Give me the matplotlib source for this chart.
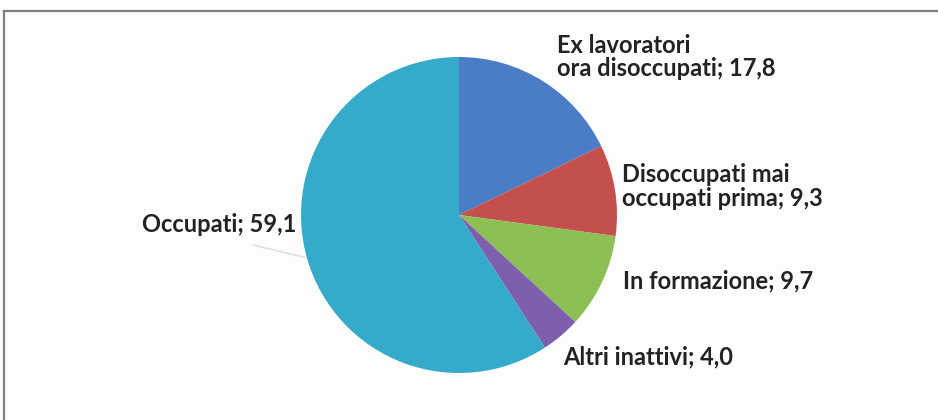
import matplotlib.pyplot as plt
from matplotlib.lines import Line2D

# --- Data ---
labels = ['Ex lavoratori\nora disoccupati; 17,8',
          'Disoccupati mai\noccupati prima; 9,3',
          'In formazione; 9,7',
          'Altri inattivi; 4,0',
          'Occupati; 59,1']
values = [17.8, 9.3, 9.7, 4.0, 59.1]
colors = ['#4A7DC6', '#C4504E', '#8DBF55', '#7E5FAE', '#35AACA']

# label anchor points in pie units (radius = 1), and alignment
label_pos = [(0.62, 1.00), (1.03, 0.18), (1.04, -0.42), (0.66, -0.90), (-1.03, -0.06)]
label_ha = ['left', 'left', 'left', 'left', 'right']

W, H = 938, 420
fig = plt.figure(figsize=(W / 100, H / 100), dpi=100)
fig.patch.set_facecolor('#FDFDFB')

# pie centre (459, 215) px, radius 158 px
cx, cy, r = 459, 215, 158
ax = fig.add_axes([(cx - r) / W, (H - cy - r) / H, 2 * r / W, 2 * r / H])
ax.pie(values, colors=colors, startangle=90, counterclock=False,
       wedgeprops=dict(linewidth=0))
ax.set_xlim(-1, 1)
ax.set_ylim(-1, 1)
ax.axis('off')

for lab, (x, y), ha in zip(labels, label_pos, label_ha):
    ax.text(x, y, lab, ha=ha, va='center', multialignment=ha,
            fontsize=17, fontfamily='Lato', fontweight='bold', color='#222222',
            linespacing=1.05, clip_on=False)

# faint leader line for "Occupati"
ax.plot([-1.30, -0.97], [-0.19, -0.27], color='#D5DEE2', linewidth=1, clip_on=False)

# frame: top and left edges only
fig.add_artist(Line2D([4 / W, 1], [1 - 11 / H, 1 - 11 / H], color='#7F7F7F', linewidth=1.6,
                      transform=fig.transFigure))
fig.add_artist(Line2D([4 / W, 4 / W], [0, 1 - 11 / H], color='#7F7F7F', linewidth=1.6,
                      transform=fig.transFigure))

fig.savefig('out.png', dpi=100, facecolor=fig.get_facecolor())
